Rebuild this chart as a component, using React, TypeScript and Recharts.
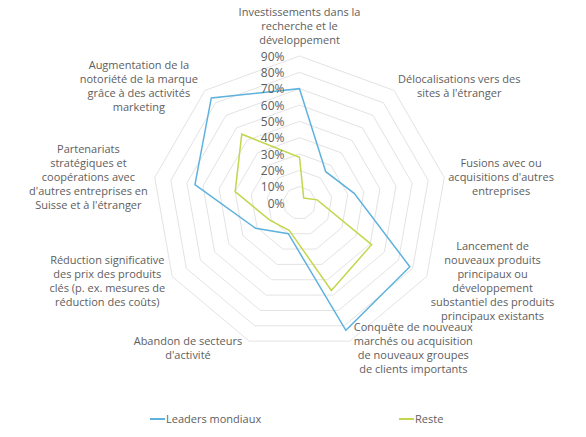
import React from 'react';
import { RadarChart, Radar, PolarGrid, PolarAngleAxis, PolarRadiusAxis, Legend } from 'recharts';

const categories = [
  'Investissements dans la\nrecherche et le\ndéveloppement',
  "Délocalisations vers des\nsites à l'étranger",
  "Fusions avec ou\nacquisitions d'autres\nentreprises",
  'Lancement de\nnouveaux produits\nprincipaux ou\ndéveloppement\nsubstantiel des produits\nprincipaux existants',
  'Conquête de nouveaux\nmarchés ou acquisition\nde nouveaux groupes\nde clients importants',
  "Abandon de secteurs\nd'activité",
  'Réduction significative\ndes prix des produits\nclés (p. ex. mesures de\nréduction des coûts)',
  "Partenariats\nstratégiques et\ncoopérations avec\nd'autres entreprises en\nSuisse et à l'étranger",
  'Augmentation de la\nnotoriété de la marque\ngrâce à des activités\nmarketing',
];

const leaders = [70, 25, 34, 78, 83, 20, 31, 65, 84];
const reste = [28, 4, 11, 51, 57, 18, 21, 40, 55];

const radiusTicks = [0, 10, 20, 30, 40, 50, 60, 70, 80, 90];

const seriesNames = ['Leaders mondiaux', 'Reste'];

const data = categories.map((name, i) => ({
  name,
  leaders: leaders[i],
  reste: reste[i],
}));

const CX = 299.5;
const CY = 203;
const R = 147;
const TEXT = '#5e5e5e';
const FONT = "'Open Sans', sans-serif";

let ctx: CanvasRenderingContext2D | null = null;
const measure = (s: string, size: number) => {
  if (!ctx) ctx = document.createElement('canvas').getContext('2d');
  if (!ctx) return s.length * size * 0.5;
  ctx.font = `${size}px 'Open Sans'`;
  return ctx.measureText(s).width;
};

const AngleTick = (props: any) => {
  const { payload, index } = props;
  const lines: string[] = String(payload.value).split('\n');
  const a = (index * 360) / categories.length;
  const rad = (a * Math.PI) / 180;
  const sx = Math.sin(rad);
  const sy = -Math.cos(rad);
  const vx = CX + R * sx;
  const vy = CY + R * sy;
  const lh = 14;
  const w = Math.max(...lines.map((l) => measure(l, 11)));
  let mx: number;
  let my: number;
  if (Math.abs(sx) < 0.1) {
    // top / bottom label sits above / below the outer ring
    const half = ((lines.length - 1) * lh) / 2;
    mx = vx;
    my = sy < 0 ? vy - 17 - half : vy + 17 + half;
  } else {
    mx = sx > 0 ? vx + 4 + w / 2 : vx - 7 - w / 2;
    my = vy + 7 * sy;
  }
  return (
    <g>
      {lines.map((l, j) => (
        <text
          key={j}
          x={mx}
          y={my + (j - (lines.length - 1) / 2) * lh}
          textAnchor="middle"
          dominantBaseline="central"
          fill={TEXT}
          fontSize={11}
          fontFamily={FONT}
        >
          {l}
        </text>
      ))}
    </g>
  );
};

const RadiusTick = (props: any) => {
  const { x, y, payload } = props;
  return (
    <text x={x - 15} y={y} textAnchor="end" dominantBaseline="central" fill={TEXT} fontSize={12} fontFamily={FONT}>
      {`${payload.value}%`}
    </text>
  );
};

const legendLeft = [150, 399];

const LegendContent = (props: any) => {
  const { payload } = props;
  return (
    <div style={{ position: 'relative', height: 16 }}>
      {(payload || []).map((p: any, i: number) => (
        <div
          key={p.value}
          style={{
            position: 'absolute',
            left: legendLeft[i],
            top: 0,
            display: 'flex',
            alignItems: 'center',
            fontFamily: FONT,
            fontSize: 11,
            color: TEXT,
            whiteSpace: 'nowrap',
          }}
        >
          <span style={{ display: 'inline-block', width: 15, height: 2, background: p.color, marginRight: 1 }} />
          {p.value}
        </div>
      ))}
    </div>
  );
};

export default function App() {
  return (
    <div style={{ position: 'absolute', left: 0, top: 0, width: 586, height: 437, background: '#fff' }}>
      <RadarChart width={586} height={437} data={data} cx={CX} cy={CY} outerRadius={R} margin={{ top: 0, right: 0, bottom: 0, left: 0 }}>
        <PolarGrid gridType="polygon" radialLines={false} stroke="#e3e3e3" />
        <PolarAngleAxis dataKey="name" tick={<AngleTick />} tickLine={false} axisLine={false} />
        <PolarRadiusAxis
          angle={90}
          domain={[0, 90]}
          ticks={radiusTicks}
          tickCount={radiusTicks.length}
          tick={<RadiusTick />}
          axisLine={false}
          tickLine={false}
        />
        <Radar
          name={seriesNames[0]}
          dataKey="leaders"
          stroke="#5fb2de"
          strokeWidth={1.5}
          fill="none"
          fillOpacity={0}
          dot={false}
          isAnimationActive={false}
        />
        <Radar
          name={seriesNames[1]}
          dataKey="reste"
          stroke="#c4d64e"
          strokeWidth={1.5}
          fill="none"
          fillOpacity={0}
          dot={false}
          isAnimationActive={false}
        />
        <Legend
          verticalAlign="top"
          content={<LegendContent />}
          wrapperStyle={{ position: 'absolute', top: 411, left: 0, width: 586 }}
        />
      </RadarChart>
    </div>
  );
}
